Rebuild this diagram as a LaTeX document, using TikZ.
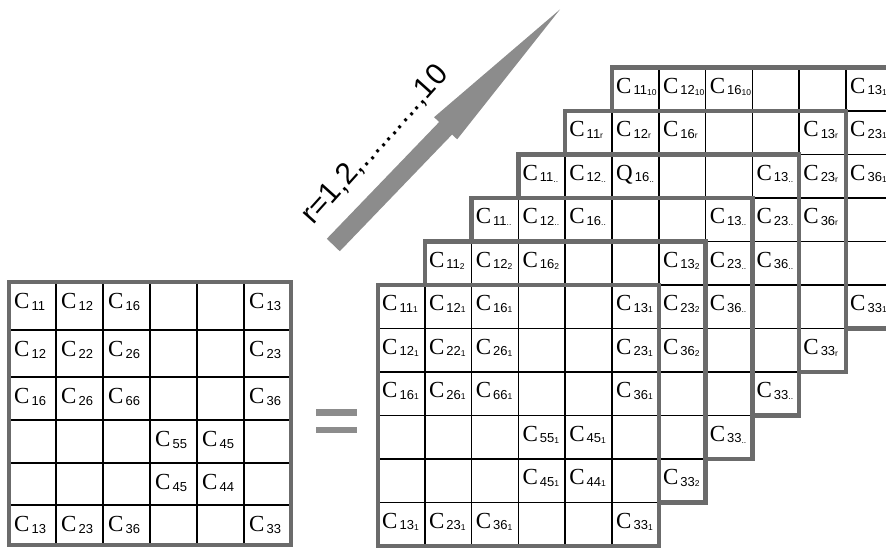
\documentclass[tikz,border=0pt]{standalone}
\usepackage{fontspec}
\newfontfamily\serifC{Liberation Serif}
\newfontfamily\sansC{Liberation Sans}
\definecolor{framegray}{gray}{0.42}
\definecolor{arrowgray}{gray}{0.55}
\newcommand{\ent}[3][C]{{\fontsize{23}{23}\serifC #1}\kern2pt\raisebox{-1.5pt}{\fontsize{13}{13}\sansC #2\fontsize{8.5}{8}\selectfont\raisebox{-0.5pt}{#3}}}
\begin{document}
\begin{tikzpicture}[x=1pt,y=1pt,
    cellline/.style={line width=1.5pt},
    frameline/.style={draw=framegray,line width=4.5pt},
    entry/.style={anchor=base west,inner sep=0pt}]
\useasboundingbox (0,0) rectangle (886,548);

% left matrix
\begin{scope}[shift={(9,266)}]
  \def\cw{47}
  \fill[white] (0,0) rectangle (6*\cw,-263);
  \foreach \i in {1,...,5}
    \draw[cellline] (\i*\cw,0) -- (\i*\cw,-263);
  \foreach \y in {48,95,138,181,223}
    \draw[cellline] (0,-\y) -- (6*\cw,-\y);
  \draw[frameline] (0,0) rectangle (6*\cw,-263);
  \foreach \i/\j/\s in {1/1/11,1/2/12,1/3/16,1/6/13,2/1/12,2/2/22,2/3/26,2/6/23,
      3/1/16,3/2/26,3/3/66,3/6/36,4/4/55,4/5/45,5/4/45,5/5/44,6/1/13,6/2/23,6/3/36,6/6/33} {
    \pgfmathsetmacro\yt{{0,48,95,138,181,223}[\i-1]}
    \node[entry] (L-\i-\j) at ({(\j-1)*\cw+5},{-\yt-27}) {\ent{\s}{}};
  }
\end{scope}

% equals sign
\fill[arrowgray] (316,132) rectangle (357,139);
\fill[arrowgray] (316,115) rectangle (357,121);

% stacked layers, back to front
\def\cw{46.8}\def\ch{43.5}
\foreach \k/\idx in {5/10,4/r,3/..,2/..,1/2,0/1} {
  \begin{scope}[shift={({378+\k*\cw},{263+\k*\ch})}]
    \fill[white] (0,0) rectangle (6*\cw,-6*\ch);
    \foreach \i in {1,...,5} {
      \draw[cellline] (\i*\cw,0) -- (\i*\cw,-6*\ch);
      \draw[cellline] (0,-\i*\ch) -- (6*\cw,-\i*\ch);
    }
    \draw[frameline] (0,0) rectangle (6*\cw,-6*\ch);
    \ifnum\k=0
      \foreach \i/\j/\s in {1/1/11,1/2/12,1/3/16,1/6/13,2/1/12,2/2/22,2/3/26,2/6/23,
          3/1/16,3/2/26,3/3/66,3/6/36,4/4/55,4/5/45,5/4/45,5/5/44,6/1/13,6/2/23,6/3/36,6/6/33}
        \node[entry] (M\k-\i-\j) at ({(\j-1)*\cw+4},{-(\i-1)*\ch-26}) {\ent{\s}{\idx}};
    \else
      \foreach \i/\j/\s in {1/1/11,1/2/12,1/3/16,1/6/13,2/6/23,3/6/36,6/6/33} {
        \def\lt{C}
        \ifnum\k=3 \ifnum\i=1 \ifnum\j=3 \def\lt{Q}\fi\fi\fi
        \node[entry] (M\k-\i-\j) at ({(\j-1)*\cw+4},{-(\i-1)*\ch-26}) {\ent[\lt]{\s}{\idx}};
      }
    \fi
  \end{scope}
}

% big arrow and its label
\fill[arrowgray,shift={(333.3,303)},rotate=46.1]
  (0,-9) -- (162,-9) -- (162,-16) -- (327,0) -- (162,16) -- (162,9) -- (0,9) -- cycle;
\node[rotate=48,font=\fontsize{30}{30}\sansC,inner sep=0pt] (rlabel) at (375,403) {r=1,2,..........,10};
\end{tikzpicture}
\end{document}
